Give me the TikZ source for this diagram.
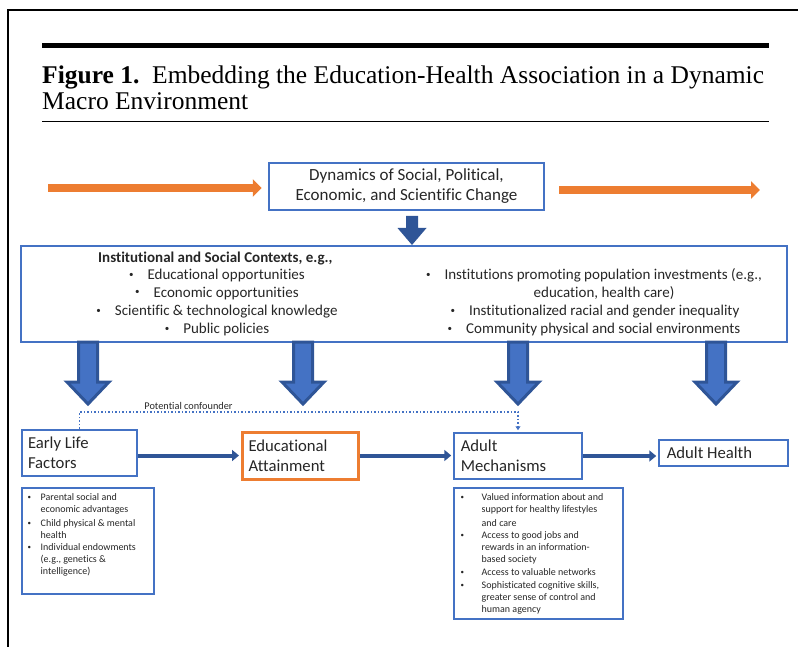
\documentclass[tikz,border=0pt]{standalone}
\usepackage{fontspec}
\setmainfont{Carlito}[Ligatures=CommonOff]
\newfontfamily\captionserif{Liberation Serif}
\usetikzlibrary{arrows.meta}
\definecolor{boxblue}{RGB}{68,114,196}
\definecolor{deepblue}{RGB}{47,85,151}
\definecolor{flowor}{RGB}{237,125,49}
\definecolor{ink}{RGB}{38,38,38}
% small bullets as used in the context box and the detail lists
\newcommand\ctxdot{\raisebox{2pt}{\fontsize{9}{9}\selectfont\textbullet}}
\newcommand\listdot{\raisebox{1pt}{\fontsize{7}{7}\selectfont\textbullet}}
\begin{document}
\begin{tikzpicture}[x=1pt,y=-1pt,
  frame/.style={draw=black, line width=2pt},
  bluebox/.style={draw=boxblue, line width=2.5pt, rectangle, inner sep=0pt, text=ink},
  keybox/.style={draw=flowor, line width=3pt, rectangle, inner sep=0pt, text=ink},
  listbox/.style={draw=boxblue, line width=1.8pt, rectangle, inner sep=0pt},
  boxlabel/.style={font=\fontsize{16.7}{20}\selectfont, align=flush left},
  ctxtext/.style={font=\fontsize{15}{18}\selectfont, text=ink, inner sep=0pt, anchor=base},
  listtext/.style={font=\fontsize{10}{12}\selectfont, text=ink, inner sep=0pt, anchor=base west},
  flow/.style={draw=deepblue, line width=4pt, -{Triangle[length=7pt,width=11pt]}, shorten >=1.5pt},
  sweep/.style={draw=flowor, line width=8pt, -{Triangle[length=9pt,width=17pt]}},
  confound/.style={draw=boxblue, line width=1.3pt, dash pattern=on 1.3pt off 2.2pt, -{Triangle[length=4pt,width=5pt]}, shorten >=1.5pt},
  fatarrow/.style={draw=deepblue, fill=boxblue, line width=3pt, line join=miter},
  pics/fatdown/.style={code={\path[fatarrow] (-9.5,0) -- (-9.5,40) -- (-21,40) -- (0,62) -- (21,40) -- (9.5,40) -- (9.5,0) -- cycle;}},
  pics/slimdown/.style={code={\fill[deepblue] (-6,0) -- (-6,12) -- (-14.5,12) -- (0,29) -- (14.5,12) -- (6,12) -- (6,0) -- cycle;}},
]
\useasboundingbox (0,0) rectangle (798,647);

% page frame and caption rules
\draw[frame] (8,647) -- (8,10) -- (798,10);
\draw[line width=4.5pt] (42,45.5) -- (769,45.5);
\draw[line width=1pt] (42,122) -- (769,122);

% caption
\node[anchor=base west, inner sep=0pt, font=\captionserif\fontsize{25.5}{28}\selectfont] (caption1) at (42,84)
  {\textbf{Figure 1.}\enspace Embedding the Education-Health Association in a Dynamic};
\node[anchor=base west, inner sep=0pt, font=\captionserif\fontsize{25.5}{28}\selectfont] (caption2) at (42,109.5)
  {Macro Environment};

% macro change
\node[bluebox, minimum width=275pt, minimum height=47pt, font=\fontsize{17}{20}\selectfont, align=center] (dyn) at (406.5,186.5)
  {Dynamics of Social, Political,\\Economic, and Scientific Change};
\coordinate (sweepin) at (48,188);
\coordinate (sweepout) at (760,190);
\draw[sweep, shorten >=6pt] (sweepin) -- (sweepin -| dyn.west);
\draw[sweep, shorten <=14pt] (dyn.east |- sweepout) -- (sweepout);

% institutional and social contexts
\node[bluebox, minimum width=766pt, minimum height=96pt] (ctx) at (404,294) {};
\pic at (412,216) {slimdown};

\node[ctxtext, anchor=base west] (ctxhead) at (98,262) {\textbf{Institutional and Social Contexts, e.g.,}};
\node[ctxtext] (ctxl1) at (217,279.3) {\ctxdot\hspace{14pt}Educational opportunities};
\node[ctxtext] (ctxl2) at (217,297) {\ctxdot\hspace{14pt}Economic opportunities};
\node[ctxtext] (ctxl3) at (217,315.7) {\ctxdot\hspace{14pt}Scientific \& technological knowledge};
\node[ctxtext] (ctxl4) at (217,333.3) {\ctxdot\hspace{14pt}Public policies};
\node[ctxtext] (ctxr1) at (594,279.3) {\ctxdot\hspace{14pt}Institutions promoting population investments (e.g.,};
\node[ctxtext] (ctxr1b) at (604,297) {education, health care)};
\node[ctxtext] (ctxr2) at (595,315.7) {\ctxdot\hspace{14pt}Institutionalized racial and gender inequality};
\node[ctxtext] (ctxr3) at (594,333.3) {\ctxdot\hspace{14pt}Community physical and social environments};

% influence of contexts on each stage
\foreach \ax in {88,303,518,716} \pic at (\ax,342) {fatdown};

% life-course stages
\node[bluebox, minimum width=115pt, minimum height=46pt, text width=103pt, inner xsep=6pt, boxlabel] (early) at (79.5,453) {Early Life\\Factors};
\node[keybox, minimum width=116pt, minimum height=47pt, text width=103pt, inner xsep=6.5pt, boxlabel] (edu) at (300,455.5) {Educational\\Attainment};
\node[bluebox, minimum width=128pt, minimum height=46pt, text width=114.5pt, inner xsep=6.75pt, boxlabel] (mech) at (518,456) {Adult\\Mechanisms};
\node[bluebox, minimum width=129pt, minimum height=26pt, text width=113.5pt, inner xsep=7.75pt, boxlabel] (health) at (723.5,453) {Adult Health};

\draw[flow] (early.east |- edu.west) -- (edu.west);
\draw[flow] (edu.east) -- (edu.east -| mech.west);
\draw[flow] (mech.east) -- (mech.east -| health.west);

% confounding path
\coordinate (cfbend) at (300,412);
\draw[confound] (early.north) |- (cfbend) -| (mech.north);
\node[font=\fontsize{10.3}{12}\selectfont, text=ink, inner sep=0pt, anchor=base] (cflabel) at (188.5,409.5) {Potential confounder};

% detail lists
\node[listbox, minimum width=132pt, minimum height=106pt] (earlylist) at (88,541) {};
\node[listtext] (earlyitems) at (27.5,500) {\begin{tabular}[t]{@{}p{13pt}@{}l@{}}
\listdot & Parental social and\\
 & economic advantages\\[2pt]
\listdot & Child physical \& mental\\
 & health\\
\listdot & Individual endowments\\
 & (e.g., genetics \&\\
 & intelligence)
\end{tabular}};

\node[listbox, minimum width=169pt, minimum height=131pt] (mechlist) at (538.5,553.5) {};
\node[listtext] (mechitems) at (460.5,500) {\begin{tabular}[t]{@{}p{21pt}@{}l@{}}
\listdot & Valued information about and\\
 & support for healthy lifestyles\\[2pt]
 & and care\\
\listdot & Access to good jobs and\\
 & rewards in an information-\\
 & based society\\[1pt]
\listdot & Access to valuable networks\\[1pt]
\listdot & Sophisticated cognitive skills,\\
 & greater sense of control and\\
 & human agency
\end{tabular}};
\end{tikzpicture}
\end{document}
